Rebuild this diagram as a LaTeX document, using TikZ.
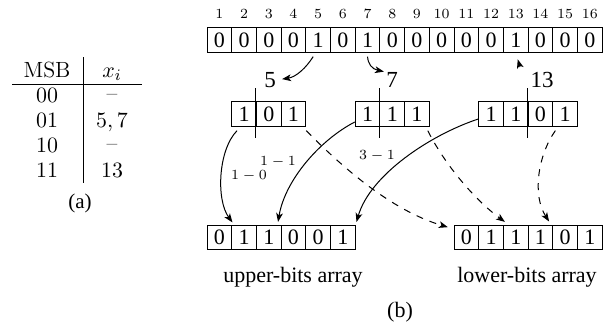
\documentclass[tikz,border=0pt]{standalone}
\usepackage{fontspec}
\newfontfamily\tms{Liberation Serif}
\usetikzlibrary{arrows.meta}
\begin{document}
\begin{tikzpicture}[x=0.5pt,y=-0.5pt,
  cell/.style={draw, line width=0.45pt, minimum width=12.35pt, minimum height=12.2pt, inner sep=0pt, font=\tms\fontsize{11}{11}\selectfont},
  idx/.style={inner sep=0pt, font=\fontsize{7}{7}\selectfont},
  lbl/.style={inner sep=0pt, font=\tms\fontsize{11.5}{11.5}\selectfont},
  sub/.style={inner sep=0pt, font=\fontsize{7.5}{8}\selectfont},
  tab/.style={inner sep=0pt, anchor=base, font=\fontsize{11}{13}\selectfont},
  txt/.style={inner sep=0pt, font=\tms\fontsize{11}{13}\selectfont},
  arr/.style={-{Stealth[length=4.5pt,width=3.4pt,inset=1.2pt]}, line width=0.5pt},
  darr/.style={arr, dash pattern=on 3.5pt off 3.5pt},
  split/.style={line width=0.5pt}]
\useasboundingbox (0,0) rectangle (613,323);

% ---- table (a)
\node[tab] (hm) at (47,77) {MSB};
\node[tab] (hx) at (112,77) {$x_i$};
\node[tab] (r1a) at (47,102) {$00$};   \node[tab] (r1b) at (112,100) {--};
\node[tab] (r2a) at (47,127) {$01$};  \node[tab] (r2b) at (112,127) {$5,7$};
\node[tab] (r3a) at (47,152) {$10$};  \node[tab] (r3b) at (112,150) {--};
\node[tab] (r4a) at (47,177) {$11$};  \node[tab] (r4b) at (112,177) {$13$};
\draw[line width=0.5pt] (12,84) -- (142,84);
\draw[line width=0.5pt] (83,57) -- (83,183);
\node[txt, font=\tms\fontsize{10.5}{12}\selectfont] (capa) at (80,203) {(a)};

% ---- top array
\foreach \v [count=\i] in {0,0,0,0,1,0,1,0,0,0,0,0,1,0,0,0} {
  \node[cell] (t\i) at ({207+(\i-0.5)*24.7},40) {\v};
  \node[idx] (n\i) at ({207+(\i-0.5)*24.7},14) {\i};
}

% ---- middle boxes
\foreach \v [count=\i] in {1,0,1}   \node[cell] (a\i) at ({207+(\i+0.5)*24.7},114) {\v};
\foreach \v [count=\i] in {1,1,1}   \node[cell] (b\i) at ({207+(\i+5.5)*24.7},114) {\v};
\foreach \v [count=\i] in {1,1,0,1} \node[cell] (c\i) at ({207+(\i+10.5)*24.7},114) {\v};
\draw[split] (a2.west) ++(0,-26) -- ++(0,50);
\draw[split] (b2.west) ++(0,-26) -- ++(0,50);
\draw[split] (c3.west) ++(0,-26) -- ++(0,50);

\node[lbl] (lab5) at (270,80) {5};
\node[lbl] (lab7) at (392,80) {7};
\node[lbl] (lab13) at (542,80) {13};

% ---- bottom arrays
\foreach \v [count=\i] in {0,1,1,0,0,1} \node[cell] (u\i) at ({207+(\i-0.5)*24.7},237.5) {\v};
\foreach \v [count=\i] in {0,1,1,1,0,1} \node[cell] (l\i) at ({207+(\i+9.5)*24.7},237.5) {\v};

\node[txt] (ua) at (293,277) {upper-bits array};
\node[txt] (la) at (527,277) {lower-bits array};
\node[txt] (capb) at (400,312) {(b)};

% ---- top arrows
\draw[arr, shorten >=3pt] ([xshift=-2.5pt,yshift=-2pt]t5.south) .. controls (306,68) and (296,77) .. (lab5.east);
\draw[arr, shorten >=1pt] ([yshift=-2pt]t7.south) .. controls (368,64) and (372,69) .. (lab7.north west);
\coordinate (c13) at (520,67);
\draw[arr, shorten >=3.5pt] (c13) -- (t13.south);

% ---- solid arrows to upper-bits array
\draw[arr, shorten >=1.5pt] ([xshift=-3.5pt,yshift=-2pt]a1.south) .. controls (218,150) and (216,200) .. ([xshift=1.5pt]u2.north west);
\draw[arr, shorten >=1.5pt] ([yshift=-4pt]b1.west) .. controls (320,140) and (285,180) .. ([xshift=-2pt]u3.north east);
\draw[arr, shorten >=1.5pt] ([yshift=-2.5pt]c1.west) .. controls (430,135) and (370,175) .. (u6.north east);

% ---- dashed arrows to lower-bits array
\draw[darr, shorten >=3pt] ([yshift=-2pt]a3.south east) .. controls (340,165) and (390,210) .. ([yshift=-2pt]l1.north west);
\draw[darr, shorten >=2.5pt] ([xshift=-1pt,yshift=-2pt]b3.south east) .. controls (445,165) and (475,200) .. ([xshift=3pt]l3.north west);
\draw[darr, shorten >=2pt] ([xshift=1.5pt,yshift=-2pt]c4.south west) .. controls (538,155) and (532,195) .. ([xshift=-1pt]l4.north east);

% ---- offset labels
\node[sub] (s10) at (249,176) {$1-0$};
\node[sub] (s11) at (278,162) {$1-1$};
\node[sub] (s31) at (377,156) {$3-1$};
\end{tikzpicture}
\end{document}
